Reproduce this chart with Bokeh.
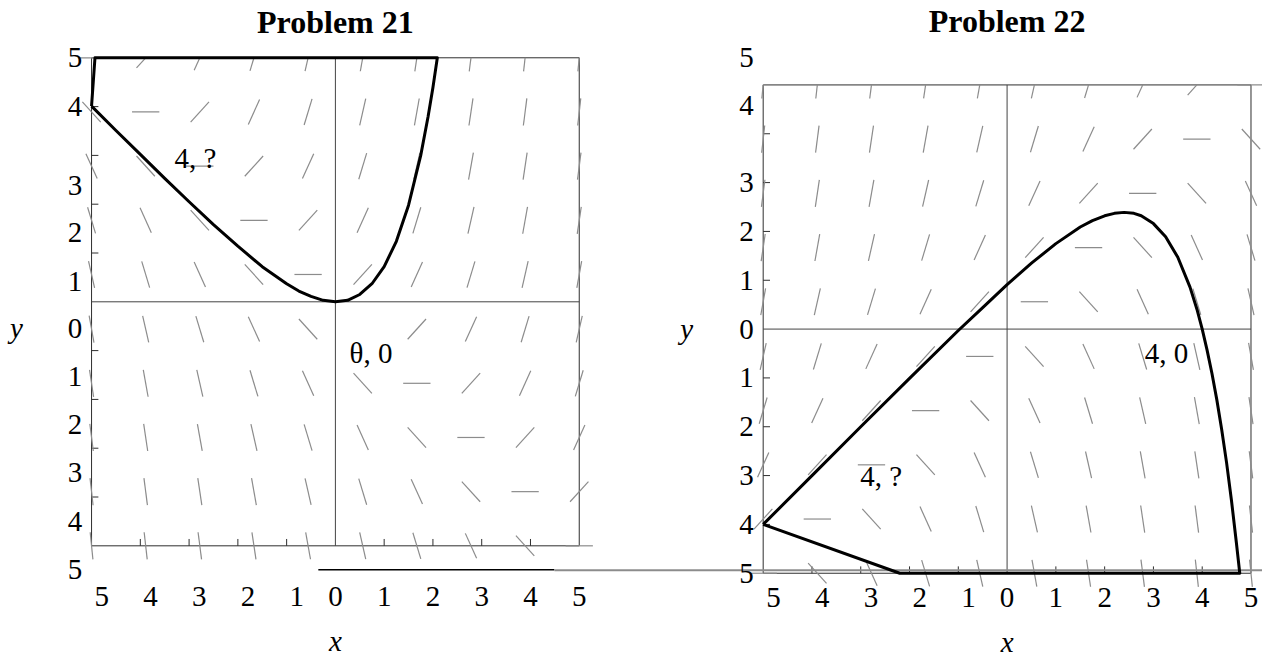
import numpy as np
from bokeh.plotting import figure
from bokeh.models import Range1d
from bokeh.core.properties import value
from bokeh.embed import file_html
from bokeh.resources import INLINE

# ---------------- data ----------------
grid_x = [-5.0, -3.89, -2.78, -1.67, -0.56, 0.56, 1.67, 2.78, 3.89, 5.0]
grid_y = [5.0, 3.89, 2.78, 1.67, 0.56, -0.56, -1.67, -2.78, -3.89, -5.0]   # rows, top to bottom

# slope field of Problem 21 (rows top -> bottom, columns left -> right; None = no mark)
slopes21 = [
    [0.0, 1.1, 2.2, 3.3, 4.4, 5.6, 6.7, 7.8, 8.9, 10.0],
    [-1.1, 0.0, 1.1, 2.2, 3.3, 4.4, 5.6, 6.7, 7.8, 8.9],
    [-2.2, -1.1, 0.0, 1.1, 2.2, 3.3, 4.4, 5.6, 6.7, 7.8],
    [-3.3, -2.2, -1.1, 0.0, 1.1, 2.2, 3.3, 4.4, 5.6, 6.7],
    [-4.4, -3.3, -2.2, -1.1, 0.0, 1.1, 2.2, 3.3, 4.4, 5.6],
    [-5.6, -4.4, -3.3, -2.2, -1.1, None, 1.1, 2.2, 3.3, 4.4],
    [-6.7, -5.6, -4.4, -3.3, -2.2, -1.1, 0.0, 1.1, 2.2, 3.3],
    [-7.8, -6.7, -5.6, -4.4, -3.3, -2.2, -1.1, 0.0, 1.1, 2.2],
    [-8.9, -7.8, -6.7, -5.6, -4.4, -3.3, -2.2, -1.1, 0.0, 1.1],
    [-10.0, -8.9, -7.8, -6.7, -5.6, -4.4, -3.3, -2.2, -1.1, 0.0],
]
# slope field of Problem 22
slopes22 = [
    [10.0, 8.9, 7.8, 6.7, 5.6, 4.4, 3.3, 2.2, 1.1, 0.0],
    [8.9, 7.8, 6.7, 5.6, 4.4, 3.3, 2.2, 1.1, 0.0, -1.1],
    [7.8, 6.7, 5.6, 4.4, 3.3, 2.2, 1.1, 0.0, -1.1, -2.2],
    [6.7, 5.6, 4.4, 3.3, 2.2, 1.1, 0.0, -1.1, -2.2, -3.3],
    [5.6, 4.4, 3.3, 2.2, 1.1, 0.0, -1.1, -2.2, -3.3, -4.4],
    [4.4, 3.3, 2.2, 1.1, 0.0, -1.1, -2.2, -3.3, -4.4, -5.6],
    [3.3, 2.2, 1.1, 0.0, -1.1, -2.2, -3.3, -4.4, -5.6, -6.7],
    [2.2, 1.1, 0.0, -1.1, -2.2, -3.3, -4.4, -5.6, -6.7, -7.8],
    [1.1, 0.0, -1.1, -2.2, -3.3, -4.4, -5.6, -6.7, -7.8, -8.9],
    [0.0, -1.1, -2.2, -3.3, -4.4, -5.6, -6.7, -7.8, -8.9, -10.0],
]

# solution curves, followed by the closing strokes
path21_x = [-5.0, -4.5, -4.0, -3.5, -3.0, -2.5, -2.0, -1.5, -1.0, -0.75, -0.5, -0.25, 0.0,
            0.25, 0.5, 0.75, 1.0, 1.25, 1.5, 1.75, 1.9, 2.0, 2.09, -4.93, -5.0]
path21_y = [4.01, 3.51, 3.02, 2.53, 2.05, 1.58, 1.14, 0.72, 0.37, 0.22, 0.11, 0.03, 0.0,
            0.03, 0.15, 0.37, 0.72, 1.24, 1.98, 3.0, 3.79, 4.39, 5.0, 5.0, 4.01]
path22_x = [-5.0, -4.0, -3.0, -2.0, -1.0, -0.5, 0.0, 0.5, 1.0, 1.5, 1.75, 2.0, 2.2, 2.4, 2.6,
            2.75, 3.0, 3.25, 3.5, 3.75, 3.9, 4.0, 4.1, 4.2, 4.3, 4.4, 4.5, 4.6, 4.7, 4.77,
            -2.2, -5.0]
path22_y = [-4.0, -3.0, -2.0, -1.01, -0.03, 0.44, 0.91, 1.35, 1.75, 2.09, 2.22, 2.32, 2.37,
            2.39, 2.37, 2.32, 2.16, 1.89, 1.47, 0.86, 0.38, 0.0, -0.43, -0.91, -1.45, -2.06,
            -2.74, -3.51, -4.37, -5.0, -5.0, -4.0]

# stray base line under both panels
stray21_x = [-0.35, 4.49]
stray21_y = [-5.49, -5.49]
stray22_x = [-9.28, 5.3]
stray22_y = [-4.94, -4.94]

# frame ticks
tick_vals = [-4, -3, -2, -1, 1, 2, 3, 4]

# tick labels (as they appear on the picture)
ylab21_text = ["5", "4", "3", "2", "1", "0", "1", "2", "3", "4", "5"]
ylab21_pos = [5.0, 4.0, 2.38, 1.41, 0.42, -0.55, -1.53, -2.51, -3.49, -4.51, -5.49]
ylab22_text = ["5", "4", "3", "2", "1", "0", "1", "2", "3", "4", "5"]
ylab22_pos = [5.56, 4.58, 3.0, 2.0, 1.0, 0.0, -1.0, -2.0, -3.0, -4.0, -5.0]
xlab_text = ["5", "4", "3", "2", "1", "0", "1", "2", "3", "4", "5"]
xlab_pos = [-4.79, -3.79, -2.79, -1.79, -0.79, 0.0, 1.0, 2.0, 3.0, 4.0, 5.0]

notes21_text = ["4, ?", "θ, 0"]
notes21_x = [-2.87, 0.73]
notes21_y = [2.94, -1.04]
notes22_text = ["4, ?", "4, 0"]
notes22_x = [-2.58, 3.27]
notes22_y = [-3.0, -0.5]

titles = ["Problem 21", "Problem 22"]

# ---------------- figure ----------------
p = figure(width=1262, height=660, output_backend="svg", toolbar_location=None,
           x_range=Range1d(-6.867, 19.010), y_range=Range1d(-7.350, 6.174),
           x_axis_location=None, y_axis_location=None, title_location=None,
           min_border=0, outline_line_color=None)
p.extra_x_ranges = {"r": Range1d(-20.635, 5.236)}
p.extra_y_ranges = {"r": Range1d(-6.787, 6.729)}
p.grid.visible = False
p.background_fill_color = "white"
p.border_fill_color = "white"

FONT = value("Liberation Serif")
SEG = "#8c8c8c"
LO, HI = -5.0, 5.0
HALF = 0.28


def slope_segments(slopes):
    x0, y0, x1, y1 = [], [], [], []
    for r, yc in enumerate(grid_y):
        for c, xc in enumerate(grid_x):
            s = slopes[r][c]
            if s is None:
                continue
            dx = HALF / np.sqrt(1 + s * s)
            dy = s * dx
            ax, ay, bx, by = xc - dx, yc - dy, xc + dx, yc + dy
            # clip against the top of the plot range
            if ay > HI:
                t = (HI - by) / (ay - by)
                ax, ay = bx + t * (ax - bx), HI
            if by > HI:
                t = (HI - ay) / (by - ay)
                bx, by = ax + t * (bx - ax), HI
            x0.append(ax); y0.append(ay); x1.append(bx); y1.append(by)
    return x0, y0, x1, y1


def panel(slopes, px, py, stray_x, stray_y, stray_color, stray_width,
          ylab_text, ylab_pos, notes_text, notes_x, notes_y, title,
          title_y, ylabel_pos, xlabel_y, **rng):
    # frame
    p.quad(left=[LO], right=[HI], bottom=[LO], top=[HI], fill_color=None,
           line_color="#2e2e2e", line_width=1, **rng)
    # axes through the origin
    p.segment(x0=[LO, 0], y0=[0, LO], x1=[HI, 0], y1=[0, HI],
              line_color="#444444", line_width=1, **rng)
    # inward ticks
    tl = 0.14
    p.segment(x0=[LO] * len(tick_vals), y0=tick_vals, x1=[LO + tl] * len(tick_vals),
              y1=tick_vals, line_color="#2e2e2e", line_width=1, **rng)
    p.segment(x0=tick_vals, y0=[LO] * len(tick_vals), x1=tick_vals,
              y1=[LO + tl] * len(tick_vals), line_color="#2e2e2e", line_width=1, **rng)
    # slope field
    x0, y0, x1, y1 = slope_segments(slopes)
    p.segment(x0=x0, y0=y0, x1=x1, y1=y1, line_color=SEG, line_width=1.2, **rng)
    # stray line
    p.line(stray_x, stray_y, line_color=stray_color, line_width=stray_width, **rng)
    # solution curve
    p.line(px, py, line_color="black", line_width=3, line_join="round", **rng)
    # tick labels
    p.text(x=[-5.34] * len(ylab_text), y=ylab_pos, text=ylab_text, text_font=FONT,
           text_font_size="29px", text_align="center", text_baseline="middle",
           text_color="black", **rng)
    p.text(x=xlab_pos, y=[xlabel_y] * len(xlab_pos), text=xlab_text, text_font=FONT,
           text_font_size="29px", text_align="center", text_baseline="middle",
           text_color="black", **rng)
    # notes
    p.text(x=notes_x, y=notes_y, text=notes_text, text_font=FONT, text_font_size="29px",
           text_align="center", text_baseline="middle", text_color="black", **rng)
    # title
    p.text(x=[0], y=[title_y], text=[title], text_font=FONT, text_font_size="32px",
           text_font_style="bold", text_align="center", text_baseline="middle",
           text_color="black", **rng)
    # axis names
    p.text(x=[ylabel_pos[0], 0], y=[ylabel_pos[1], ylabel_pos[2]], text=["y", "x"],
           text_font=FONT, text_font_size="29px", text_font_style="italic",
           text_align="center", text_baseline="middle", text_color="black", **rng)


panel(slopes21, path21_x, path21_y, stray21_x, stray21_y, "black", 1.5,
      ylab21_text, ylab21_pos, notes21_text, notes21_x, notes21_y, titles[0],
      5.74, (-6.54, -0.53, -6.95), -6.03)
panel(slopes22, path22_x, path22_y, stray22_x, stray22_y, "#8c8c8c", 2,
      ylab22_text, ylab22_pos, notes22_text, notes22_x, notes22_y, titles[1],
      6.30, (-6.57, 0.0, -6.40), -5.49, x_range_name="r", y_range_name="r")

open("out.html", "w").write(file_html(p, INLINE))
